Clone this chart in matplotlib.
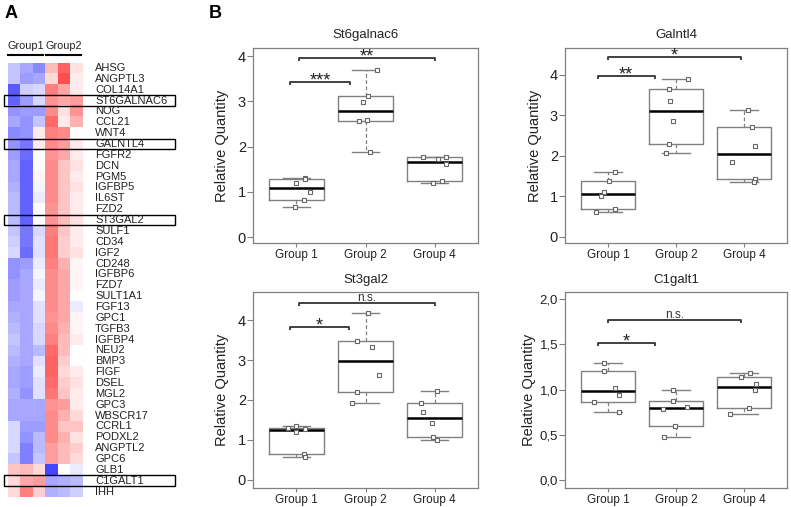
import numpy as np
import matplotlib
matplotlib.use('Agg')
import matplotlib.pyplot as plt
from matplotlib.colors import LinearSegmentedColormap
from matplotlib.patches import Rectangle
from matplotlib.lines import Line2D

plt.rcParams['font.family'] = ['Liberation Sans', 'DejaVu Sans']

# ---- panel A: heatmap data (row z-scores, estimated from colour) ----
genes = ['AHSG', 'ANGPTL3', 'COL14A1', 'ST6GALNAC6', 'NOG', 'CCL21', 'WNT4',
         'GALNTL4', 'FGFR2', 'DCN', 'PGM5', 'IGFBP5', 'IL6ST', 'FZD2',
         'ST3GAL2', 'SULF1', 'CD34', 'IGF2', 'CD248', 'IGFBP6', 'FZD7',
         'SULT1A1', 'FGF13', 'GPC1', 'TGFB3', 'IGFBP4', 'NEU2', 'BMP3',
         'FIGF', 'DSEL', 'MGL2', 'GPC3', 'WBSCR17', 'CCRL1', 'PODXL2',
         'ANGPTL2', 'GPC6', 'GLB1', 'C1GALT1', 'IHH']
heat = np.array([
    [-0.30, -0.45, -0.60, 0.35, 0.80, 0.15],
    [-0.30, -0.50, -0.45, 0.20, 0.90, 0.10],
    [-0.85, -0.25, -0.20, 0.65, 0.45, 0.10],
    [-0.80, -0.50, -0.20, 0.55, 0.45, 0.50],
    [-0.55, -0.50, -0.50, 0.60, 0.15, 0.55],
    [-0.45, -0.55, -0.30, 0.75, 0.10, 0.40],
    [-0.60, -0.55, 0.10, 0.65, 0.60, 0.00],
    [-0.55, -0.70, 0.10, 0.60, 0.50, 0.10],
    [-0.50, -0.75, 0.00, 0.55, 0.45, 0.10],
    [-0.45, -0.80, 0.00, 0.60, 0.30, 0.15],
    [-0.45, -0.80, 0.05, 0.60, 0.30, 0.10],
    [-0.40, -0.80, -0.05, 0.60, 0.30, 0.15],
    [-0.35, -0.80, -0.10, 0.60, 0.30, 0.10],
    [-0.35, -0.80, 0.00, 0.55, 0.30, 0.10],
    [-0.35, -0.80, 0.00, 0.55, 0.35, 0.15],
    [-0.30, -0.70, -0.20, 0.65, 0.30, 0.10],
    [-0.25, -0.70, -0.15, 0.70, 0.25, 0.10],
    [-0.20, -0.75, -0.15, 0.70, 0.25, 0.15],
    [-0.55, -0.50, -0.10, 0.65, 0.40, 0.05],
    [-0.55, -0.45, -0.05, 0.60, 0.45, 0.05],
    [-0.50, -0.45, -0.10, 0.60, 0.45, 0.05],
    [-0.50, -0.45, -0.05, 0.60, 0.45, 0.00],
    [-0.45, -0.45, -0.15, 0.60, 0.45, -0.10],
    [-0.40, -0.45, -0.15, 0.55, 0.45, 0.05],
    [-0.35, -0.45, -0.20, 0.60, 0.40, 0.05],
    [-0.30, -0.45, -0.20, 0.65, 0.35, 0.10],
    [-0.35, -0.45, -0.35, 0.75, 0.35, 0.00],
    [-0.40, -0.45, -0.15, 0.80, 0.25, 0.00],
    [-0.45, -0.50, -0.10, 0.80, 0.20, 0.10],
    [-0.45, -0.50, -0.15, 0.75, 0.25, 0.15],
    [-0.40, -0.55, -0.15, 0.70, 0.30, 0.10],
    [-0.45, -0.45, -0.45, 0.55, 0.50, 0.10],
    [-0.45, -0.45, -0.45, 0.60, 0.40, 0.20],
    [-0.20, -0.50, -0.50, 0.60, 0.30, 0.30],
    [-0.20, -0.55, -0.35, 0.60, 0.40, 0.15],
    [-0.20, -0.65, -0.35, 0.50, 0.35, 0.25],
    [-0.30, -0.65, -0.30, 0.50, 0.35, 0.20],
    [0.30, 0.35, 0.20, -0.95, 0.00, -0.10],
    [0.20, 0.45, 0.50, -0.45, -0.40, -0.35],
    [0.20, 0.65, 0.25, -0.40, -0.35, -0.25],
])
boxed_genes = ['ST6GALNAC6', 'GALNTL4', 'ST3GAL2', 'C1GALT1']
heat_groups = ['Group1', 'Group2']

# ---- panel B: qPCR relative quantities ----
groups = ['Group 1', 'Group 2', 'Group 4']
st6galnac6 = [[0.67, 0.83, 1.20, 1.30, 1.29, 0.99],
              [3.69, 3.12, 2.99, 2.56, 2.59, 1.89],
              [1.77, 1.72, 1.77, 1.61, 1.20, 1.24]]
galntl4 = [[0.62, 0.68, 1.01, 1.11, 1.38, 1.61],
           [3.90, 3.65, 3.36, 2.85, 2.29, 2.06],
           [3.13, 2.72, 2.25, 1.84, 1.43, 1.36]]
st3gal2 = [[1.30, 1.34, 1.19, 1.28, 0.65, 0.56],
           [4.18, 3.49, 3.32, 2.63, 2.20, 1.92],
           [2.23, 1.92, 1.70, 1.41, 1.06, 1.00]]
c1galt1 = [[1.29, 1.21, 1.02, 0.94, 0.86, 0.75],
           [0.99, 0.87, 0.81, 0.78, 0.60, 0.48],
           [1.18, 1.14, 1.06, 1.00, 0.80, 0.73]]

# horizontal jitter of the points (group units)
jit_st6 = [[-0.02, 0.11, -0.01, 0.12, 0.12, 0.19],
           [0.16, 0.04, -0.03, -0.10, 0.02, 0.06],
           [-0.16, 0.05, 0.17, 0.17, -0.02, 0.11]]
jit_gal = [[-0.17, 0.11, -0.10, -0.05, 0.01, 0.10],
           [0.18, -0.11, -0.09, -0.04, -0.11, -0.14],
           [0.05, 0.11, 0.16, -0.18, 0.16, 0.15]]
jit_st3 = [[-0.13, -0.01, -0.01, 0.13, 0.11, 0.12],
           [0.03, -0.12, 0.10, 0.19, -0.13, -0.19],
           [0.03, -0.20, -0.17, -0.03, -0.02, 0.03]]
jit_c1 = [[-0.05, -0.05, 0.11, 0.17, -0.21, 0.16],
          [-0.05, -0.05, 0.16, -0.19, -0.02, -0.18],
          [0.09, -0.05, 0.17, 0.16, 0.07, -0.20]]

# significance brackets: (x start, x end, height, label)
sig_st6 = [(0.91, 1.77, 3.43, '***'), (1.03, 3.01, 3.96, '**')]
sig_gal = [(0.85, 1.69, 3.96, '**'), (1.00, 2.95, 4.43, '*')]
sig_st3 = [(0.91, 1.76, 3.82, '*'), (1.04, 3.00, 4.44, 'n.s.')]
sig_c1 = [(0.85, 1.69, 1.51, '*'), (1.00, 2.95, 1.77, 'n.s.')]

W, H = 791, 507
fig = plt.figure(figsize=(W / 100, H / 100), dpi=100)


def fx(px):
    return px / W


def fy(py):
    return 1 - py / H


# ---------------- panel A ----------------
row_h = 10.86
top = 62.6
n_rows = len(genes)
axh = fig.add_axes([fx(8), fy(top + n_rows * row_h), fx(74), n_rows * row_h / H])
cmap = LinearSegmentedColormap.from_list('soft_bwr', ['#3c3cff', 'white', '#ff3c3c'])
axh.imshow(heat, cmap=cmap, vmin=-1, vmax=1, aspect='auto', interpolation='nearest')
axh.set_axis_off()

for i, g in enumerate(genes):
    yc = top + (i + 0.5) * row_h
    fig.text(fx(95), fy(yc), g, fontsize=8, va='center', ha='left', color='#222222')
    if g in boxed_genes:
        fig.patches.append(Rectangle((fx(4), fy(top + (i + 1) * row_h)), fx(171), row_h / H,
                                     transform=fig.transFigure, fill=False,
                                     edgecolor='black', linewidth=1.0))

for k, lab in enumerate(heat_groups):
    x0 = 8 + k * 38
    fig.text(fx(x0 + 17.5), fy(46), lab, fontsize=7.8, ha='center', va='center', color='#222222')
    fig.lines.append(Line2D([fx(x0), fx(x0 + 35)], [fy(55), fy(55)],
                            transform=fig.transFigure, color='black', linewidth=1.5))

fig.text(fx(11), fy(14), 'A', fontsize=13, fontweight='bold', ha='center', va='center')
fig.text(fx(215), fy(14), 'B', fontsize=13, fontweight='bold', ha='center', va='center')


# ---------------- panel B ----------------
def fivenum(v):
    x = np.sort(np.asarray(v, dtype=float))
    n = len(x)
    n4 = np.floor((n + 3) / 2) / 2
    d = np.array([1, n4, (n + 1) / 2, n + 1 - n4, n]) - 1
    return 0.5 * (x[np.floor(d).astype(int)] + x[np.ceil(d).astype(int)])


def box_stats(v):
    mn, q1, med, q3, mx = fivenum(v)
    iqr = q3 - q1
    v = np.asarray(v)
    lo = v[v >= q1 - 1.5 * iqr].min()
    hi = v[v <= q3 + 1.5 * iqr].max()
    return dict(med=med, q1=q1, q3=q3, whislo=lo, whishi=hi, fliers=[])


gray = '#808080'
panels = [
    ('St6galnac6', st6galnac6, jit_st6, sig_st6, (253, 48, 478, 243), (-0.13, 4.18), [0, 1, 2, 3, 4], None, 7),
    ('Galntl4', galntl4, jit_gal, sig_gal, (565, 48, 787, 243), (-0.15, 4.66), [0, 1, 2, 3, 4], None, 7),
    ('St3gal2', st3gal2, jit_st3, sig_st3, (253, 292, 478, 488), (-0.21, 4.71), [0, 1, 2, 3, 4], None, 6.5),
    ('C1galt1', c1galt1, jit_c1, sig_c1, (565, 292, 787, 488), (-0.09, 2.08), [0, 0.5, 1, 1.5, 2],
     ['0,0', '0,5', '1,0', '1,5', '2,0'], 6.5),
]

for title, vals, jit, sigs, (l, t, r, b), ylim, yt, ytl, tpad in panels:
    ax = fig.add_axes([fx(l), fy(b), fx(r - l), (b - t) / H])
    stats = [box_stats(v) for v in vals]
    ax.bxp(stats, positions=[1, 2, 3], widths=0.8, capwidths=0.4, showfliers=False,
           boxprops=dict(color=gray, linewidth=1.0),
           medianprops=dict(color='black', linewidth=1.8),
           whiskerprops=dict(color=gray, linewidth=0.9, linestyle=(0, (3, 2))),
           capprops=dict(color=gray, linewidth=1.0))
    for k, (v, j) in enumerate(zip(vals, jit)):
        ax.plot(np.array(j) + k + 1, v, linestyle='none', marker='s', ms=3.3,
                mfc='white', mec='#666666', mew=0.8, zorder=4)

    ax.set_xlim(0.37, 3.63)
    ax.set_ylim(*ylim)
    ax.set_xticks([1, 2, 3])
    ax.set_xticklabels(groups)
    ax.set_yticks(yt)
    if ytl is not None:
        ax.set_yticklabels(ytl)
    ax.tick_params(axis='x', length=3, width=0.8, color=gray, pad=1.5,
                   labelsize=8.5, labelcolor='#222222')
    ax.tick_params(axis='y', length=4, width=0.8, color=gray, pad=1,
                   labelsize=10.5 if ytl is None else 9.5, labelcolor='#222222')
    for sp in ax.spines.values():
        sp.set_color(gray)
        sp.set_linewidth(0.9)
    ax.set_ylabel('Relative Quantity', fontsize=10.5, color='#222222')
    ax.yaxis.set_label_coords(-0.105 if ytl is None else -0.13, 0.5)
    ax.set_title(title, fontsize=9.5, color='#222222', pad=tpad)

    tick = 3.0 / (b - t) * (ylim[1] - ylim[0])
    for x1, x2, yb, lab in sigs:
        ax.plot([x1, x1, x2, x2], [yb - tick, yb, yb, yb - tick], color='#333333',
                linewidth=1.3, solid_capstyle='butt', zorder=5)
        if lab == 'n.s.':
            ax.annotate(lab, xy=((x1 + x2) / 2, yb), xytext=(0, 1.5),
                        textcoords='offset points', ha='center', va='baseline',
                        fontsize=8.5, color='#333333')
        else:
            ax.annotate(lab, xy=((x1 + x2) / 2, yb), xytext=(0, -2.5),
                        textcoords='offset points', ha='center', va='baseline',
                        fontsize=13, color='#222222')

fig.savefig('out.png', dpi=100)
